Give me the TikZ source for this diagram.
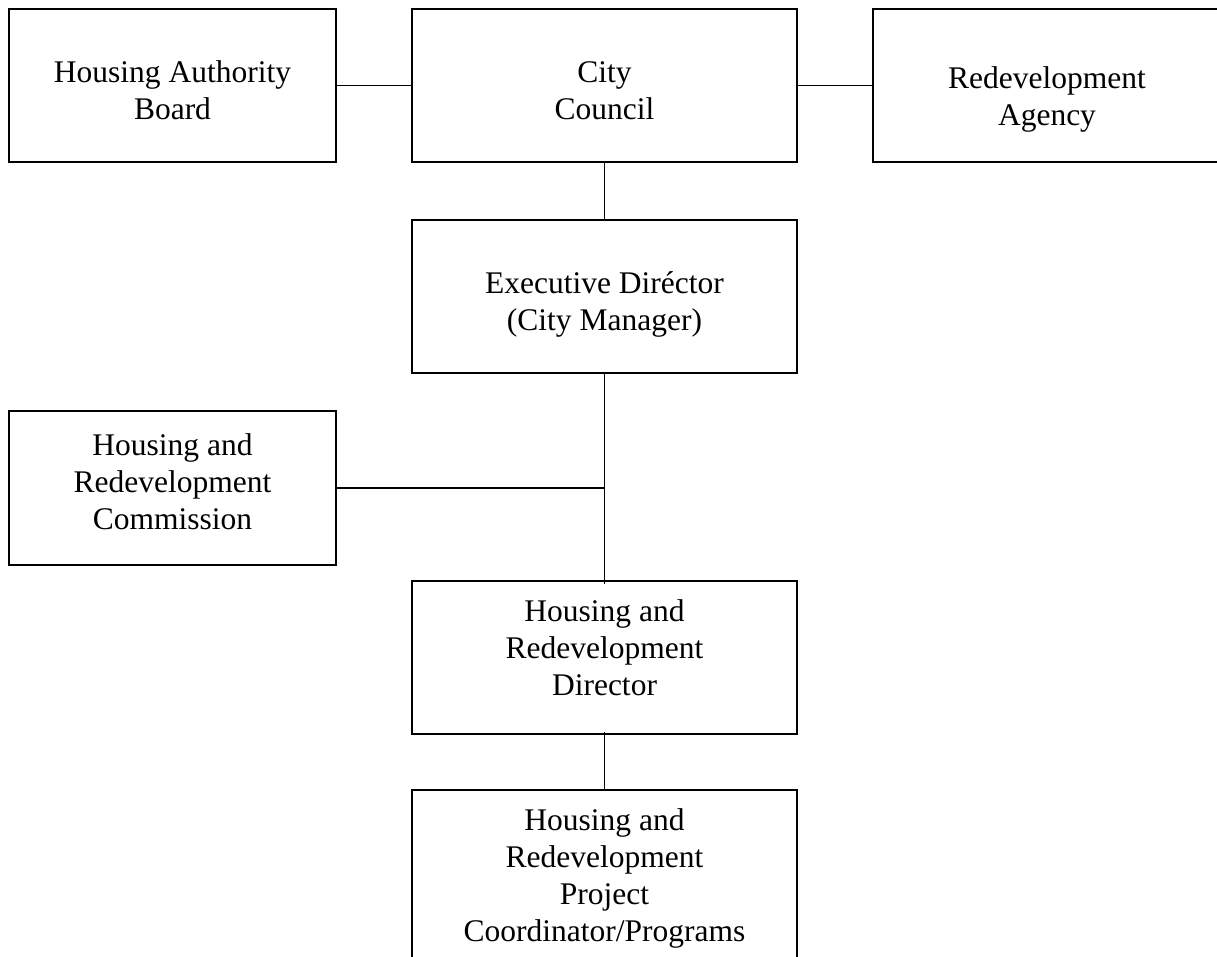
\documentclass[tikz,border=0pt]{standalone}
\usepackage{fontspec}
\setmainfont{Liberation Serif}
\tikzset{
  orgbox/.style={draw, line width=1.8pt, rectangle, inner sep=0pt},
  orgtext/.style={align=center, inner sep=0pt, font=\fontsize{31.5}{37}\selectfont},
  link/.style={line width=1.8pt}
}
\begin{document}
\begin{tikzpicture}[x=1pt,y=-1pt]
\useasboundingbox (0,0) rectangle (1217,957);
\node[orgbox, minimum width=327pt, minimum height=153pt] (hab) at (172.5,85.5) {};
\node[orgbox, minimum width=385pt, minimum height=153pt] (cc) at (604.5,85.5) {};
\node[orgbox, minimum width=348pt, minimum height=153pt] (ra) at (1047,85.5) {};
\node[orgbox, minimum width=385pt, minimum height=153pt] (ed) at (604.5,296.5) {};
\node[orgbox, minimum width=327pt, minimum height=154pt] (hrc) at (172.5,488) {};
\node[orgbox, minimum width=385pt, minimum height=153pt] (hrd) at (604.5,657.5) {};
\node[orgbox, minimum width=385pt, minimum height=176pt] (hrp) at (604.5,878) {};
\node[orgtext] (habt) at ([yshift=-5pt]hab.center) {Housing Authority\\Board};
\node[orgtext] (cct) at ([yshift=-5pt]cc.center) {City\\Council};
\node[orgtext] (rat) at ([yshift=-14pt]ra.center) {Redevelopment\\Agency};
\node[orgtext] (edt) at ([yshift=-8pt]ed.center) {Executive Diréctor\\(City Manager)};
\node[orgtext] (hrct) at ([yshift=6pt]hrc.center) {Housing and\\Redevelopment\\Commission};
\node[orgtext] (hrdt) at ([yshift=10pt]hrd.center) {Housing and\\Redevelopment\\Director};
\node[orgtext] (hrpt) at (hrp.center) {Housing and\\Redevelopment\\Project\\Coordinator/Programs};
\draw[link] (hab.east) -- (cc.west);
\draw[link] (cc.east) -- (ra.west);
\draw[link] (cc.south) -- (ed.north);
\draw[link] (ed.south) -- ([yshift=-4pt]hrd.north);
\draw[link] (hrc.east) -- (hrc.east -| ed.south);
\draw[link] ([yshift=3pt]hrd.south) -- (hrp.north);
\end{tikzpicture}
\end{document}
